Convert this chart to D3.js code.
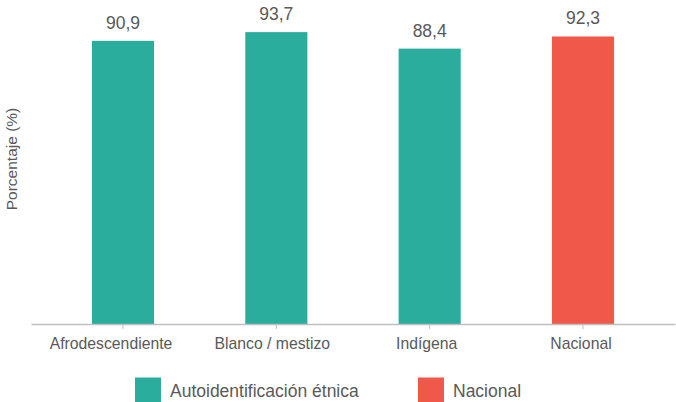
<!DOCTYPE html>
<html>
<head>
<meta charset="utf-8">
<script src="https://cdn.jsdelivr.net/npm/d3@7"></script>
<style>
  body { margin: 0; background: #fff; }
  svg text { font-family: "Liberation Sans", Arial, sans-serif; fill: #595959; }
</style>
</head>
<body>
<div id="chart"></div>
<script>
const categories = ["Afrodescendiente", "Blanco / mestizo", "Indígena", "Nacional"];
const values = [90.9, 93.7, 88.4, 92.3];
const groups = ["etnica", "etnica", "etnica", "nacional"];
const legendLabels = ["Autoidentificación étnica", "Nacional"];
const yLabel = "Porcentaje (%)";

const colorTeal = "#2aad9c";
const colorRed = "#f0584a";
const width = 676, height = 402;
// the source chart sets its category labels a little left of the ticks
const tickNudge = [-12, -4, -3, -2];

const svg = d3.select("#chart").append("svg")
    .attr("width", width)
    .attr("height", height);

const x = d3.scaleBand()
    .domain(categories)
    .range([31, 675])
    .paddingInner(0.595)
    .paddingOuter(0.3975);

const y = d3.scaleLinear()
    .domain([0, 100])
    .range([324, 12.5]);

const color = d3.scaleOrdinal()
    .domain(["etnica", "nacional"])
    .range([colorTeal, colorRed]);

// bars
svg.append("g")
    .selectAll("rect")
    .data(categories)
    .join("rect")
    .attr("x", d => x(d))
    .attr("y", (d, i) => y(values[i]))
    .attr("width", x.bandwidth())
    .attr("height", (d, i) => y(0) - y(values[i]))
    .attr("fill", (d, i) => color(groups[i]));

// value labels, comma as decimal separator
svg.append("g")
    .selectAll("text")
    .data(categories)
    .join("text")
    .attr("x", d => x(d) + x.bandwidth() / 2)
    .attr("y", (d, i) => y(values[i]) - 12)
    .attr("text-anchor", "middle")
    .style("font-size", "17.5px")
    .text((d, i) => values[i].toFixed(1).replace(".", ","));

// x axis
const xAxis = svg.append("g")
    .attr("transform", "translate(0," + y(0) + ")")
    .call(d3.axisBottom(x).tickSize(5).tickSizeOuter(0));
xAxis.select(".domain").attr("stroke", "#bfbfbf").attr("stroke-width", 1.5);
xAxis.selectAll(".tick line").attr("stroke", "#bfbfbf");
xAxis.selectAll(".tick text")
    .attr("dx", (d, i) => tickNudge[i])
    .attr("dy", "1.05em")
    .style("font-size", "15.75px")
    .style("fill", "#595959");

// y axis title
svg.append("text")
    .attr("transform", "translate(17,159) rotate(-90)")
    .attr("text-anchor", "middle")
    .style("font-size", "15.5px")
    .text(yLabel);

// legend
const legendX = [135, 418];
const legend = svg.append("g")
    .selectAll("g")
    .data(legendLabels)
    .join("g")
    .attr("transform", (d, i) => "translate(" + legendX[i] + ",377.5)");
legend.append("rect")
    .attr("width", 26)
    .attr("height", 25)
    .attr("fill", (d, i) => [colorTeal, colorRed][i]);
legend.append("text")
    .attr("x", 35)
    .attr("y", 19)
    .style("font-size", "17.5px")
    .text(d => d);
</script>
</body>
</html>
